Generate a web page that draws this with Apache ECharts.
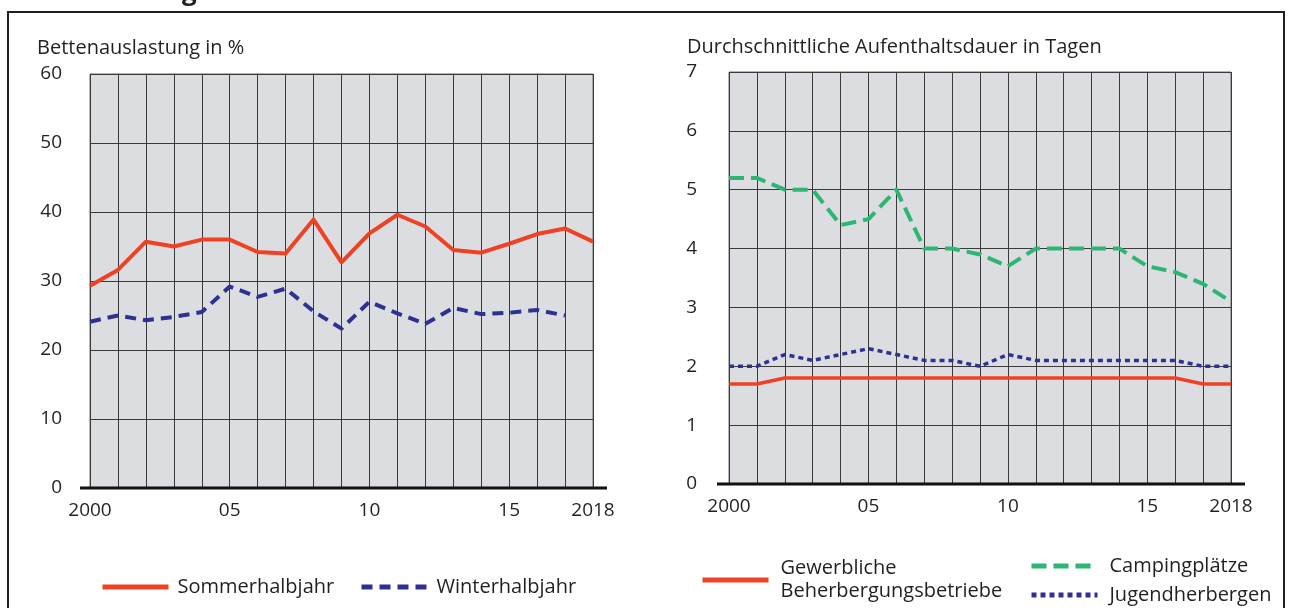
<!DOCTYPE html>
<html>
<head>
<meta charset="utf-8">
<title>Bettenauslastung und Aufenthaltsdauer</title>
<script src="https://cdn.jsdelivr.net/npm/echarts@6/dist/echarts.min.js"></script>
<style>
  html, body {
    margin: 0;
    padding: 0;
    background: #fff;
  }
  #chart {
    width: 1289px;
    height: 608px;
  }
</style>
</head>
<body>
<div id="chart"></div>
<script>
// Jahre (x-Achse beider Diagramme)
const years = ['2000', '2001', '2002', '2003', '2004', '2005', '2006', '2007', '2008', '2009',
  '2010', '2011', '2012', '2013', '2014', '2015', '2016', '2017', '2018']

// Beschriftung nur an einzelnen Jahren
const yearLabels = { '2000': '2000', '2005': '05', '2010': '10', '2015': '15', '2018': '2018' }

// Bettenauslastung in %
const sommerhalbjahr = [29.3, 31.6, 35.7, 35.0, 36.0, 36.0, 34.2, 34.0, 38.9, 32.7,
  36.9, 39.6, 37.9, 34.5, 34.1, 35.4, 36.8, 37.6, 35.7]
const winterhalbjahr = [24.1, 25.0, 24.3, 24.8, 25.5, 29.2, 27.7, 28.9, 25.6, 23.1,
  27.0, 25.3, 23.8, 26.1, 25.2, 25.4, 25.8, 25.0]

// Durchschnittliche Aufenthaltsdauer in Tagen
const gewerbliche = [1.7, 1.7, 1.8, 1.8, 1.8, 1.8, 1.8, 1.8, 1.8, 1.8,
  1.8, 1.8, 1.8, 1.8, 1.8, 1.8, 1.8, 1.7, 1.7]
const camping = [5.2, 5.2, 5.0, 5.0, 4.4, 4.5, 5.0, 4.0, 4.0, 3.9,
  3.7, 4.0, 4.0, 4.0, 4.0, 3.7, 3.6, 3.4, 3.1]
const jugendherbergen = [2.0, 2.0, 2.2, 2.1, 2.2, 2.3, 2.2, 2.1, 2.1, 2.0,
  2.2, 2.1, 2.1, 2.1, 2.1, 2.1, 2.1, 2.0, 2.0]

const FONT = '"Open Sans", "Noto Sans", sans-serif'
const TEXT_COLOR = '#231f20'
const RED = '#ef4123'
const NAVY = '#2e3192'
const GREEN = '#2db673'

const chart = echarts.init(document.getElementById('chart'), null, { renderer: 'canvas' })

function xAxisFor(gridIndex) {
  return {
    type: 'category',
    gridIndex,
    data: years,
    boundaryGap: false,
    axisLine: { show: false },
    axisTick: { show: false },
    axisLabel: {
      interval: 0,
      margin: 13,
      fontSize: 19,
      fontFamily: FONT,
      color: TEXT_COLOR,
      formatter: (v) => yearLabels[v] || ''
    },
    splitLine: {
      show: true,
      interval: 0,
      lineStyle: { color: '#3a3a3a', width: 1 }
    }
  }
}

function yAxisFor(gridIndex, max, interval, margin) {
  return {
    type: 'value',
    gridIndex,
    min: 0,
    max,
    interval,
    axisLine: { show: false },
    axisTick: { show: false },
    axisLabel: {
      margin,
      fontSize: 19,
      fontFamily: FONT,
      color: TEXT_COLOR
    },
    splitLine: {
      show: true,
      lineStyle: { color: '#3a3a3a', width: 1 }
    }
  }
}

function lineSeries(name, data, axisIndex, color, width, dash) {
  return {
    name,
    type: 'line',
    xAxisIndex: axisIndex,
    yAxisIndex: axisIndex,
    data,
    symbol: 'none',
    silent: true,
    itemStyle: { color },
    lineStyle: {
      color,
      width,
      type: dash || 'solid',
      join: 'round'
    }
  }
}

// Legende: nur die Linie, ohne Punktsymbol
function legendFor(names, left, top, textPad, extra) {
  return Object.assign({
    data: names,
    left,
    top,
    itemWidth: 66,
    itemHeight: 14,
    itemStyle: { opacity: 0 },
    lineStyle: { width: 5 },
    textStyle: {
      fontSize: 20,
      fontFamily: FONT,
      color: TEXT_COLOR,
      padding: [0, 0, 0, textPad]
    }
  }, extra || {})
}

const option = {
  animation: false,
  textStyle: { fontFamily: FONT },
  title: [
    {
      text: 'Bettenauslastung in %',
      left: 32,
      top: 33,
      textStyle: { fontSize: 20, fontWeight: 'normal', fontFamily: FONT, color: TEXT_COLOR }
    },
    {
      text: 'Durchschnittliche Aufenthaltsdauer in Tagen',
      left: 682,
      top: 32,
      textStyle: { fontSize: 20, fontWeight: 'normal', fontFamily: FONT, color: TEXT_COLOR }
    }
  ],
  grid: [
    {
      left: 90, right: 696, top: 74, bottom: 120,
      show: true,
      backgroundColor: '#dcdde0',
      borderColor: '#6d6d6d',
      borderWidth: 1
    },
    {
      left: 729, right: 58, top: 72, bottom: 124,
      show: true,
      backgroundColor: '#dcdde0',
      borderColor: '#6d6d6d',
      borderWidth: 1
    }
  ],
  xAxis: [xAxisFor(0), xAxisFor(1)],
  yAxis: [yAxisFor(0, 60, 10, 28), yAxisFor(1, 7, 1, 32)],
  legend: [
    legendFor(['Sommerhalbjahr'], 95, 572, 4),
    legendFor(['Winterhalbjahr'], 354, 572, 4),
    legendFor(['Gewerbliche\nBeherbergungsbetriebe'], 695, 552, 7, {
      textStyle: {
        fontSize: 20,
        fontFamily: FONT,
        color: TEXT_COLOR,
        lineHeight: 23,
        padding: [0, 0, 0, 7]
      }
    }),
    legendFor(['Campingplätze'], 1024, 551, 7),
    legendFor(['Jugendherbergen'], 1024, 580, 7)
  ],
  series: [
    lineSeries('Sommerhalbjahr', sommerhalbjahr, 0, RED, 4),
    lineSeries('Winterhalbjahr', winterhalbjahr, 0, NAVY, 4, [11, 7]),
    lineSeries('Gewerbliche\nBeherbergungsbetriebe', gewerbliche, 1, RED, 3.5),
    lineSeries('Campingplätze', camping, 1, GREEN, 4, [15, 7]),
    lineSeries('Jugendherbergen', jugendherbergen, 1, NAVY, 3.5, [5, 4])
  ],
  graphic: [
    // Rahmen um die Abbildung
    {
      type: 'rect',
      shape: { x: 8, y: 12, width: 1276, height: 640 },
      style: { fill: 'none', stroke: TEXT_COLOR, lineWidth: 2 },
      silent: true
    },
    // Rest der abgeschnittenen Überschrift
    {
      type: 'text',
      left: 182,
      top: -20,
      style: { text: 'g', fontSize: 26, fontWeight: 'bold', fontFamily: FONT, fill: TEXT_COLOR },
      silent: true
    },
    // kräftige Grundlinien der x-Achsen
    {
      type: 'line',
      shape: { x1: 80, y1: 488, x2: 607, y2: 488 },
      style: { stroke: '#111', lineWidth: 3 },
      z: 10,
      silent: true
    },
    {
      type: 'line',
      shape: { x1: 717, y1: 484, x2: 1245, y2: 484 },
      style: { stroke: '#111', lineWidth: 3 },
      z: 10,
      silent: true
    }
  ]
}

chart.setOption(option)
</script>
</body>
</html>
